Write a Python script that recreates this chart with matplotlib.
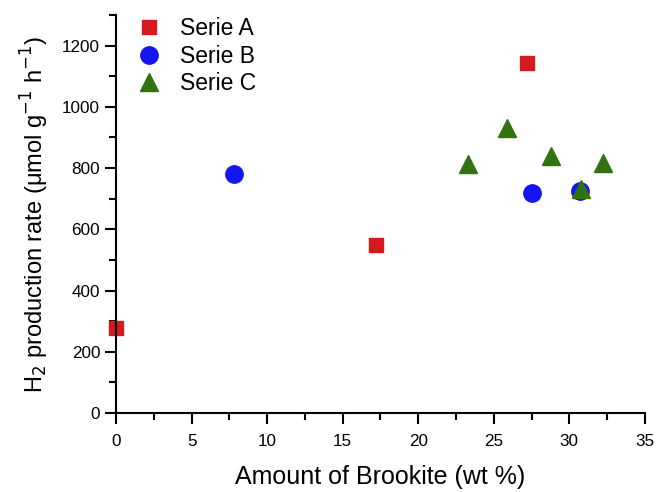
import matplotlib
matplotlib.use("Agg")
import matplotlib.pyplot as plt
from matplotlib.ticker import MultipleLocator

plt.rcParams['font.family'] = ['Liberation Sans', 'DejaVu Sans']

# data
serie_a_x = [0, 17.2, 27.2]
serie_a_y = [278, 548, 1143]
serie_b_x = [7.8, 27.5, 30.7]
serie_b_y = [781, 717, 726]
serie_c_x = [23.3, 25.9, 28.8, 30.8, 32.2]
serie_c_y = [813, 931, 838, 730, 817]

fig = plt.figure(figsize=(6.56, 4.92), dpi=100)
ax = fig.add_axes([0.177, 0.1606, 0.806, 0.809])

ax.plot(serie_a_x, serie_a_y, 's', color='#d41a1f', markersize=10.5, label='Serie A',
        linestyle='none', clip_on=False)
ax.plot(serie_b_x, serie_b_y, 'o', color='#1515f2', markersize=12.5, label='Serie B',
        linestyle='none', clip_on=False)
ax.plot(serie_c_x, serie_c_y, '^', color='#337212', markersize=13, label='Serie C',
        linestyle='none', clip_on=False)

ax.set_xlim(0, 35)
ax.set_ylim(0, 1300)
ax.xaxis.set_major_locator(MultipleLocator(5))
ax.xaxis.set_minor_locator(MultipleLocator(2.5))
ax.yaxis.set_minor_locator(MultipleLocator(100))
ax.set_yticks(range(0, 1201, 200))

for side in ['top', 'right']:
    ax.spines[side].set_visible(False)
for side in ['left', 'bottom']:
    ax.spines[side].set_linewidth(1.5)
ax.tick_params(which='major', direction='out', length=8, width=1.5, labelsize=12.3)
ax.tick_params(which='minor', direction='out', length=5, width=1.5)
ax.tick_params(axis='x', pad=7)

ax.set_xlabel('Amount of Brookite (wt %)', fontsize=18, labelpad=12)
ax.set_ylabel('H$_2$ production rate (μmol g$^{-1}$ h$^{-1}$)', fontsize=17, labelpad=8)

ax.legend(loc='upper left', bbox_to_anchor=(-0.012, 1.035), frameon=False, fontsize=16.5,
          handletextpad=0.38, labelspacing=0.2, borderaxespad=0.3)

fig.savefig('out.png', dpi=100)
